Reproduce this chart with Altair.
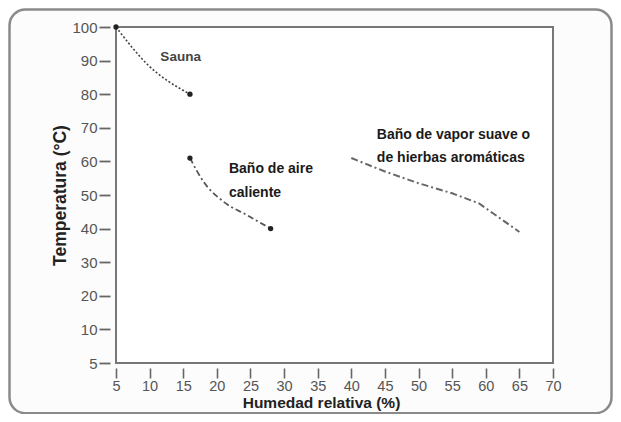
import altair as alt
import pandas as pd

# Data
sauna_x = [5, 9.6, 16]
sauna_y = [100, 89, 80]
aire_x = [16, 18, 21, 24.5, 28]
aire_y = [61, 54, 48, 44, 40]
vapor_x = [40, 45, 50, 55, 59, 65]
vapor_y = [61, 57, 53.5, 50.5, 47.5, 39]

dot_x = [5, 16, 16, 28]
dot_y = [100, 80, 61, 40]

y_ticks = [0, 10, 20, 30, 40, 50, 60, 70, 80, 90, 100]
x_ticks = [5, 10, 15, 20, 25, 30, 35, 40, 45, 50, 55, 60, 65, 70]

small_label = ["Sauna"]
small_label_x = [11.6]
small_label_y = [91]

big_labels = ["Baño de aire", "caliente", "Baño de vapor suave o", "de hierbas aromáticas"]
big_labels_x = [21.8, 21.8, 43.8, 43.8]
big_labels_y = [57.8, 50.6, 68, 61]

sauna = pd.DataFrame({"x": sauna_x, "y": sauna_y})
aire = pd.DataFrame({"x": aire_x, "y": aire_y})
vapor = pd.DataFrame({"x": vapor_x, "y": vapor_y})
dots = pd.DataFrame({"x": dot_x, "y": dot_y})
small = pd.DataFrame({"t": small_label, "x": small_label_x, "y": small_label_y})
big = pd.DataFrame({"t": big_labels, "x": big_labels_x, "y": big_labels_y})

xs = alt.Scale(domain=[5, 70], nice=False, zero=False)
ys = alt.Scale(domain=[0, 100], nice=False, zero=False)

x_axis = alt.Axis(
    title="Humedad relativa (%)", values=x_ticks, domain=False, grid=False,
    offset=5, tickSize=10, tickWidth=1.6, tickColor="#666", labelPadding=1,
    labelFontSize=14.5, labelColor="#555", labelFont="Liberation Sans",
    labelOverlap=False, labelFlush=False,
    titleFont="Liberation Sans", titleFontSize=15.5, titleFontWeight="bold",
    titleColor="#222", titlePadding=3, titleX=205, zindex=2,
)
y_axis = alt.Axis(
    title="Temperatura (°C)", values=y_ticks, domain=False, grid=False,
    offset=6, tickSize=11, tickWidth=1.8, tickColor="#666", labelPadding=2,
    labelFontSize=15, labelColor="#555", labelFont="Liberation Sans",
    labelOverlap=False, labelFlush=False,
    labelExpr="datum.value == 0 ? '5' : datum.label",
    titleFont="Liberation Sans", titleFontSize=17.5, titleFontWeight="bold",
    titleColor="#222", titlePadding=2, zindex=2,
)

X = alt.X("x:Q", scale=xs, axis=x_axis)
Y = alt.Y("y:Q", scale=ys, axis=y_axis)

one = pd.DataFrame({"a": [0]})

frame = alt.Chart(one).mark_rect(
    fill="#fcfcfc", stroke="#8a8a8a", strokeWidth=2.5, cornerRadius=16, clip=False
).encode(
    x=alt.value(-106.5), x2=alt.value(495.5), y=alt.value(-17.5), y2=alt.value(386.2)
)

inner = alt.Chart(one).mark_rect(fill="white", stroke="#777", strokeWidth=2).encode(
    x=alt.value(0), x2=alt.value(437), y=alt.value(0), y2=alt.value(336)
)

l_sauna = alt.Chart(sauna).mark_line(
    color="#444", strokeWidth=1.6, strokeDash=[2, 2], interpolate="monotone"
).encode(x=X, y=Y)
l_aire = alt.Chart(aire).mark_line(
    color="#555", strokeWidth=1.8, strokeDash=[6, 3, 2, 3], interpolate="monotone"
).encode(x=X, y=Y)
l_vapor = alt.Chart(vapor).mark_line(
    color="#666", strokeWidth=2, strokeDash=[7, 3, 2, 3]
).encode(x=X, y=Y)
pts = alt.Chart(dots).mark_circle(color="#222", size=28, opacity=1).encode(x=X, y=Y)

t_small = alt.Chart(small).mark_text(
    align="left", baseline="middle", font="Liberation Sans", fontSize=13.5,
    fontWeight="bold", color="#444"
).encode(x=X, y=Y, text="t:N")
t_big = alt.Chart(big).mark_text(
    align="left", baseline="middle", font="Liberation Sans", fontSize=14,
    fontWeight="bold", color="#1a1a1a"
).encode(x=X, y=Y, text="t:N")

chart = alt.layer(
    frame, inner, l_sauna, l_aire, l_vapor, pts, t_small, t_big
).properties(
    width=437, height=336,
    autosize=alt.AutoSizeParams(type="none"),
    padding={"left": 108, "top": 19, "right": 60, "bottom": 51},
).configure_view(
    strokeWidth=0
).configure_axis(
    labelOverlap=False
).configure(background="white")

chart.save("out.html", embed_options={"renderer": "svg", "actions": False})
